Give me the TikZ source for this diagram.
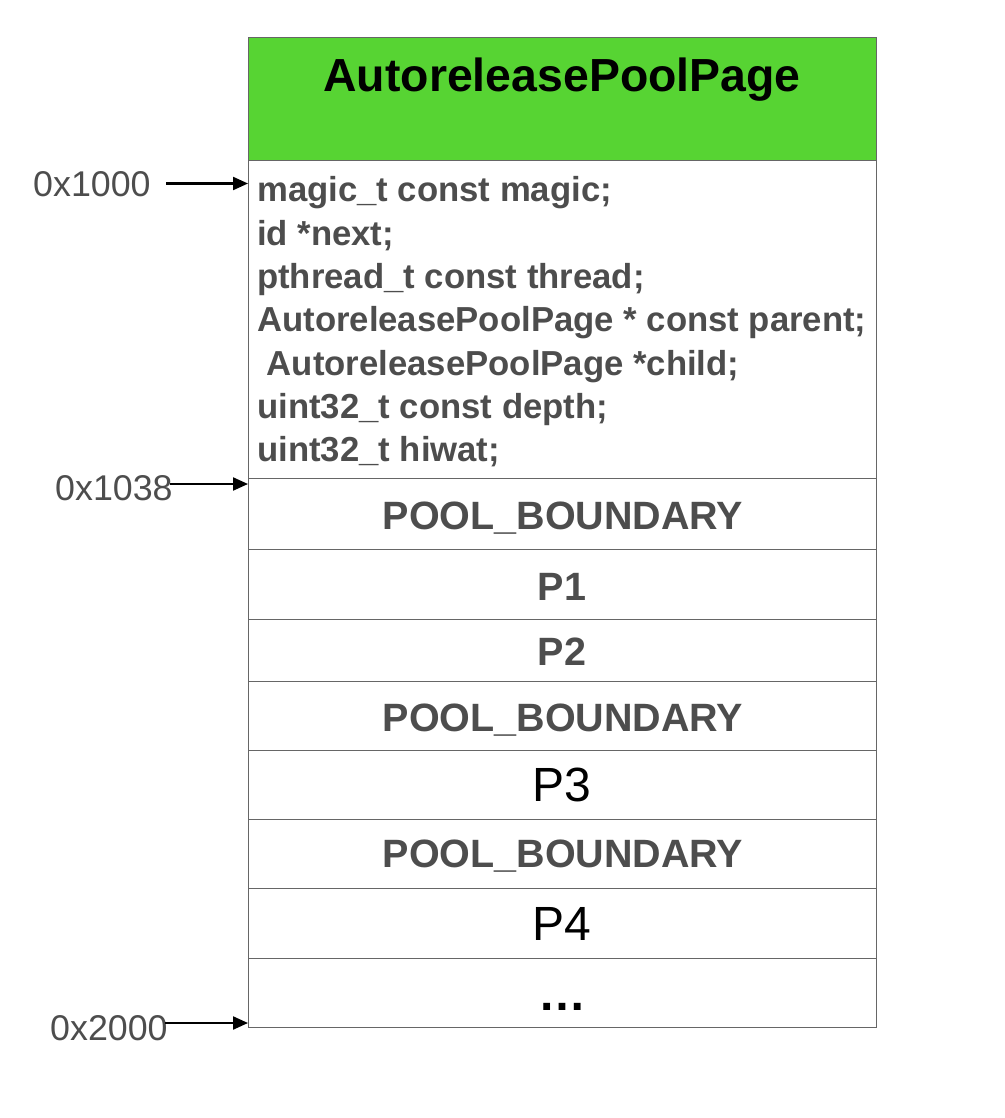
\documentclass[tikz,border=0pt]{standalone}
\usepackage{fontspec}
\setmainfont{Liberation Sans}
\usetikzlibrary{arrows.meta}
\definecolor{hdrgreen}{HTML}{57D433}
\definecolor{txtgray}{HTML}{4D4D4D}
\definecolor{linegray}{HTML}{666666}
\begin{document}
\begin{tikzpicture}[x=1pt,y=-1pt,
  cell/.style={draw=linegray, line width=1pt, inner sep=0pt, outer sep=0pt, anchor=north west, minimum width=628pt},
  titletxt/.style={anchor=base, inner sep=0pt, text=black, font=\fontsize{46.4}{55}\selectfont\bfseries},
  fieldtxt/.style={anchor=base west, inner sep=0pt, text=txtgray, font=\fontsize{34.7}{43}\selectfont\bfseries},
  rowbold/.style={anchor=base, inner sep=0pt, text=txtgray, font=\fontsize{39.5}{48}\selectfont\bfseries},
  rowplain/.style={anchor=base, inner sep=0pt, text=black, font=\fontsize{48}{56}\selectfont},
  addr/.style={anchor=base west, inner sep=0pt, text=txtgray, font=\fontsize{35.8}{42}\selectfont},
  ptr/.style={-{Triangle[length=15pt,width=13pt]}, line width=2.2pt, black}]
\useasboundingbox (0,0) rectangle (1004,1118);
% cells
\node[cell, fill=hdrgreen, minimum height=123pt] (hdr) at (248,38) {};
\node[cell, minimum height=317pt] (fields) at (248,161) {};
\node[cell, minimum height=71pt] (r1) at (248,478) {};
\node[cell, minimum height=70pt] (r2) at (248,549) {};
\node[cell, minimum height=62pt] (r3) at (248,619) {};
\node[cell, minimum height=69pt] (r4) at (248,681) {};
\node[cell, minimum height=69pt] (r5) at (248,750) {};
\node[cell, minimum height=69pt] (r6) at (248,819) {};
\node[cell, minimum height=70pt] (r7) at (248,888) {};
\node[cell, minimum height=69pt] (r8) at (248,958) {};
% title
\node[titletxt] (title) at (562,91.7) {AutoreleasePoolPage};
% fields
\node[fieldtxt] (f1) at (257,201.7) {magic\_t const magic;};
\node[fieldtxt] (f2) at (257,245.0) {id *next;};
\node[fieldtxt] (f3) at (257,288.3) {pthread\_t const thread;};
\node[fieldtxt] (f4) at (257,331.7) {AutoreleasePoolPage * const parent;};
\node[fieldtxt] (f5) at (257,375.0) {\hspace{0.28em}AutoreleasePoolPage *child;};
\node[fieldtxt] (f6) at (257,418.3) {uint32\_t const depth;};
\node[fieldtxt] (f7) at (257,461.7) {uint32\_t hiwat;};
% row texts
\node[rowbold] (t1) at (563,529.5) {POOL\_BOUNDARY};
\node[rowbold] (t2) at (562,600.7) {P1};
\node[rowbold] (t3) at (562,665.0) {P2};
\node[rowbold] (t4) at (563,731.0) {POOL\_BOUNDARY};
\node[rowplain] (t5) at (562,801.7) {P3};
\node[rowbold] (t6) at (563,867.7) {POOL\_BOUNDARY};
\node[rowplain] (t7) at (562,940.0) {P4};
\node[rowplain, font=\fontsize{48}{56}\selectfont\bfseries] (t8) at (562,1010.7) {…};
% address labels
\node[addr] (l1) at (33,196.7) {0x1000};
\node[addr] (l2) at (55,500) {0x1038};
\node[addr] (l3) at (50,1040) {0x2000};
% arrows
\coordinate (a1s) at (166,183.5);
\coordinate (a1e) at (fields.west |- a1s);
\coordinate (a2s) at (170,484);
\coordinate (a2e) at (fields.west |- a2s);
\coordinate (a3s) at (165,1023);
\coordinate (a3e) at (fields.west |- a3s);
\draw[ptr] (a1s) -- (a1e);
\draw[ptr] (a2s) -- (a2e);
\draw[ptr] (a3s) -- (a3e);
\end{tikzpicture}
\end{document}
